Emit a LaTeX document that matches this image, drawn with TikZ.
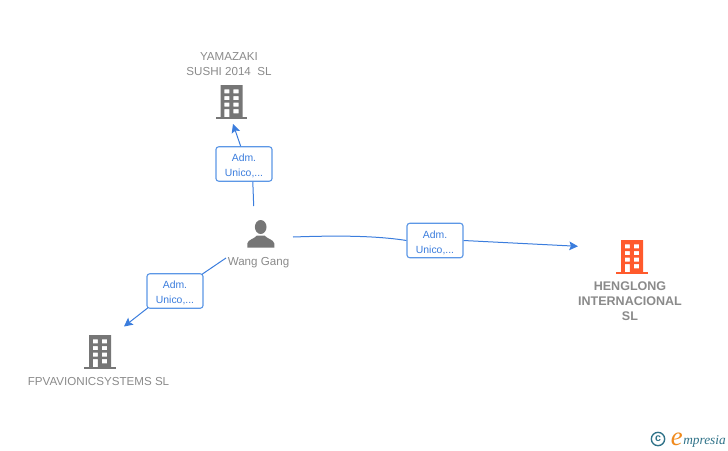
\documentclass[tikz,border=0pt]{standalone}
\usepackage{fontspec}
\setmainfont{Liberation Sans}
\newfontfamily\logofont{Liberation Serif}
\usetikzlibrary{positioning,arrows.meta}
\tikzset{>={Stealth[length=6.5pt,width=6.5pt,inset=1.2pt]}}
\definecolor{penColor}{HTML}{3B7DDD}
\definecolor{boxColor}{HTML}{5C97E6}
\definecolor{iconGrey}{HTML}{767676}
\definecolor{textGrey}{HTML}{8A8A8A}
\definecolor{iconOrange}{HTML}{FF5A2C}
\definecolor{logoTeal}{HTML}{2F7288}
\definecolor{logoOrange}{HTML}{F08A1D}
\tikzset{
  linkline/.style={penColor,line width=0.75pt},
  linkbox/.style={draw=boxColor,fill=white,line width=0.85pt,rounded corners=2pt,minimum width=42pt,minimum height=25.8pt,
    inner sep=0pt,align=center,text=penColor,font=\fontsize{7.8}{11.2}\selectfont},
  firmlabel/.style={text=textGrey,align=center,inner sep=0pt,font=\fontsize{8.7}{11.2}\selectfont},
  firmbold/.style={text=textGrey,align=center,inner sep=0pt,font=\bfseries\fontsize{9.4}{11.4}\selectfont},
  pics/building/.style={code={
    \fill[#1,even odd rule] (-10.8,-17) rectangle (11.2,15)
      (-7.2,-12.7) rectangle (-2.2,-8.7) (1.8,-12.7) rectangle (7.2,-8.7)
      (-7.2,-6) rectangle (-2.2,-2) (1.8,-6) rectangle (7.2,-2)
      (-7.2,0.7) rectangle (-2.2,4.7) (1.8,0.7) rectangle (7.2,4.7)
      (-7.2,7) rectangle (-2.2,15) (1.8,7) rectangle (7.2,11.3);
    \fill[#1] (-15.8,14.7) rectangle (15.8,17);
  }}
}
\begin{document}
\begin{tikzpicture}[x=0.75pt,y=-0.75pt]
  \useasboundingbox (0,0) rectangle (728,450);
  % firms
  \pic at (231.5,102) {building=iconGrey};
  \pic at (632,257) {building=iconOrange};
  \pic at (100,352) {building=iconGrey};
  \node[firmlabel] (yamazaki) at (229,64.5) {YAMAZAKI\\SUSHI 2014\ \ SL};
  \node[firmbold] (henglong) at (630,301) {HENGLONG\\INTERNACIONAL\\SL};
  \node[firmlabel] (fpv) at (98.5,382) {FPVAVIONICSYSTEMS SL};
  % person
  \fill[iconGrey] (260.7,227) ellipse [x radius=5.8,y radius=7];
  \fill[iconGrey] (247.3,247.5) -- (247.3,243.5) .. controls (248,239.5) and (254,239) .. (257,235.5)
    -- (264.5,235.5) .. controls (267.5,239) and (273.5,239.5) .. (274.3,243.5) -- (274.3,247.5) -- cycle;
  \node[firmlabel] (wang) at (258.5,263) {Wang Gang};
  % links
  \node[linkbox] (boxtop) at (244,164) {\\[-2.3pt]Adm.\\Unico,...};
  \node[linkbox] (boxright) at (435,240.5) {\\[-2.3pt]Adm.\\Unico,...};
  \node[linkbox] (boxleft) at (175,291) {\\[-2.3pt]Adm.\\Unico,...};
  \coordinate (topstart) at (253.7,206);
  \coordinate (topend) at (233,124);
  \coordinate (rightstart) at (293,237);
  \coordinate (rightend) at (578,246.3);
  \coordinate (leftstart) at (226,258);
  \coordinate (leftend) at (124,326.5);
  \draw[linkline] (topstart) -- (boxtop.south -| 252.8,0);
  \draw[linkline,->] (boxtop.north -| 240.7,0) -- (topend);
  \draw[linkline] (rightstart) .. controls (335,235.5) and (375,235.5) .. (boxright.west);
  \draw[linkline,->] (boxright.east) -- (rightend);
  \draw[linkline] (leftstart) -- ([shift={(-1.5,1)}]boxleft.north east);
  \draw[linkline,->] ([shift={(1.5,-1)}]boxleft.south west) -- (leftend);
  % logo
  \node[draw=logoTeal,line width=1pt,circle,minimum size=10pt,inner sep=0pt,text=logoTeal,font=\bfseries\fontsize{8}{8}\selectfont] (copyr) at (658,439) {c};
  \node[inner sep=0pt,anchor=base west,text=logoOrange,font=\logofont\itshape\fontsize{20}{20}\selectfont] (logoe) at (670.5,445.5) {e};
  \node[inner sep=0pt,anchor=base west,text=logoTeal,font=\logofont\itshape\fontsize{10}{10}\selectfont] (logotext) at (683,444.5) {mpresia};
\end{tikzpicture}
\end{document}
